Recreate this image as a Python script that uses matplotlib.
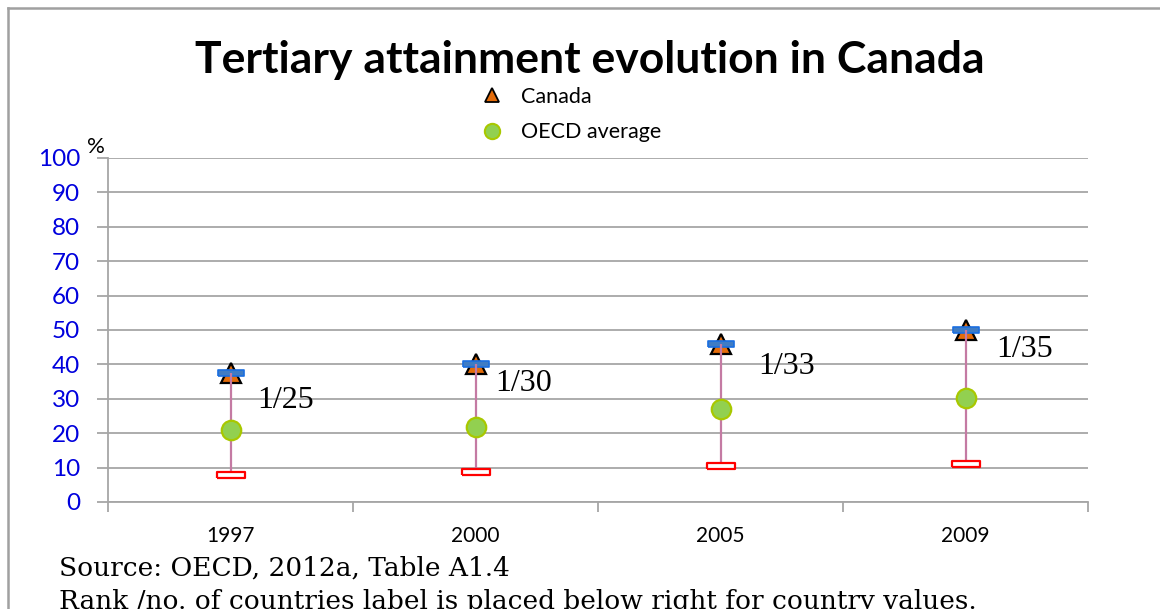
import matplotlib
matplotlib.use("Agg")
import matplotlib.pyplot as plt
from matplotlib.lines import Line2D
import numpy as np

# Data
years = ["1997", "2000", "2005", "2009"]
canada = [37.5, 40.0, 46.0, 50.0]          # Canada (highest value, rank 1)
oecd_avg = [20.8, 21.8, 27.0, 30.1]        # OECD average
lowest = [7.8, 8.7, 10.5, 11.0]            # lowest country value
rank_labels = ["1/25", "1/30", "1/33", "1/35"]
yticks = [0, 10, 20, 30, 40, 50, 60, 70, 80, 90, 100]

# Baseline offsets (points) for the rank annotations
label_offsets = [(19, -25), (14, -19.5), (27, -22), (22, -19.5)]

W, H, DPI = 1160, 609, 100
fig = plt.figure(figsize=(W / DPI, H / DPI), dpi=DPI)
fig.patch.set_facecolor("white")

SANS = ["Lato", "DejaVu Sans"]
SERIF = ["Liberation Serif", "DejaVu Serif"]

ax = fig.add_axes([108 / W, 1 - 502 / H, (1088 - 108) / W, (502 - 158) / H])
x = np.arange(len(years))

grid_c = "#a6a6a6"
ax.set_xlim(-0.5, len(years) - 0.5)
ax.set_ylim(0, 100)
ax.set_yticks(yticks)
ax.set_yticklabels([str(v) for v in yticks], color="#0000dd",
                   fontsize=17.5, family=SANS)
ax.yaxis.grid(True, color=grid_c, linewidth=1.3)
ax.set_axisbelow(True)

# category labels at centres, tick marks on category boundaries
ax.set_xticks(x)
ax.set_xticklabels(years, fontsize=15, family=SANS)
ax.set_xticks(np.arange(-0.5, len(years)), minor=True)
ax.tick_params(axis="x", which="major", length=0, pad=17)
ax.tick_params(axis="x", which="minor", length=7, color=grid_c, width=1.3)
ax.tick_params(axis="y", length=8, color=grid_c, width=1.3, pad=12)
for s in ["top", "right"]:
    ax.spines[s].set_visible(False)
for s in ["left", "bottom"]:
    ax.spines[s].set_color(grid_c)
    ax.spines[s].set_linewidth(1.3)

# high-low lines
ax.vlines(x, lowest, canada, color="#c47aa3", linewidth=1.6, zorder=4)

bar_marker = [(-2.5, -0.5), (2.5, -0.5), (2.5, 0.5), (-2.5, 0.5), (-2.5, -0.5)]

ax.plot(x, lowest, linestyle="none", marker=bar_marker, markersize=20,
        markerfacecolor="white", markeredgecolor="#ff0000",
        markeredgewidth=1.6, zorder=5)
ax.plot(x, canada, linestyle="none", marker="^", markersize=14,
        markerfacecolor="#e46c0a", markeredgecolor="black",
        markeredgewidth=1.6, zorder=3)
ax.plot(x, canada, linestyle="none", marker=bar_marker, markersize=19,
        markerfacecolor="#3f7cc4", markeredgecolor="#1a6ee0",
        markeredgewidth=1.2, zorder=3.5)
ax.plot(x, oecd_avg, linestyle="none", marker="o", markersize=14,
        markerfacecolor="#92d050", markeredgecolor="#a8c800",
        markeredgewidth=1.6, zorder=6)

for xi, yi, lab, off in zip(x, canada, rank_labels, label_offsets):
    ax.annotate(lab, (xi, yi), xytext=off, textcoords="offset points",
                ha="left", va="baseline", fontsize=23, family=SERIF, zorder=7)

fig.text(87 / W, 1 - 147 / H, "%", ha="left", va="center",
         fontsize=16, family=SANS)

# title and legend
fig.text(590 / W, 1 - 60 / H, "Tertiary attainment evolution in Canada",
         ha="center", va="center", fontsize=32, fontweight="bold", family=SANS)

handles = [
    Line2D([], [], linestyle="none", marker="^", markersize=10,
           markerfacecolor="#e46c0a", markeredgecolor="black",
           markeredgewidth=1.3),
    Line2D([], [], linestyle="none", marker="o", markersize=11,
           markerfacecolor="#92d050", markeredgecolor="#a8c800",
           markeredgewidth=1.5),
]
fig.legend(handles, ["Canada", "OECD average"], loc="upper left",
           bbox_to_anchor=(468 / W, 1 - 76 / H), frameon=False,
           prop={"family": SANS, "size": 15.5}, labelspacing=0.72,
           handlelength=1.2, handletextpad=0.75, borderpad=0)

# notes under the chart
NOTE = ["DejaVu Serif"]
fig.text(59 / W, 1 - 568 / H, "Source: OECD, 2012a, Table A1.4",
         ha="left", va="center", fontsize=19, family=NOTE)
fig.text(59 / W, 1 - 602 / H,
         "Rank /no. of countries label is placed below right for country values.",
         ha="left", va="center", fontsize=19, family=NOTE)

# outer frame
frame_c = "#a0a0a0"
fig.add_artist(Line2D([8 / W, 8 / W], [0, 1 - 8 / H], transform=fig.transFigure,
                      color=frame_c, linewidth=1.8))
fig.add_artist(Line2D([8 / W, 1], [1 - 8 / H, 1 - 8 / H], transform=fig.transFigure,
                      color=frame_c, linewidth=1.8))

fig.savefig("out.png", dpi=DPI, facecolor="white")
